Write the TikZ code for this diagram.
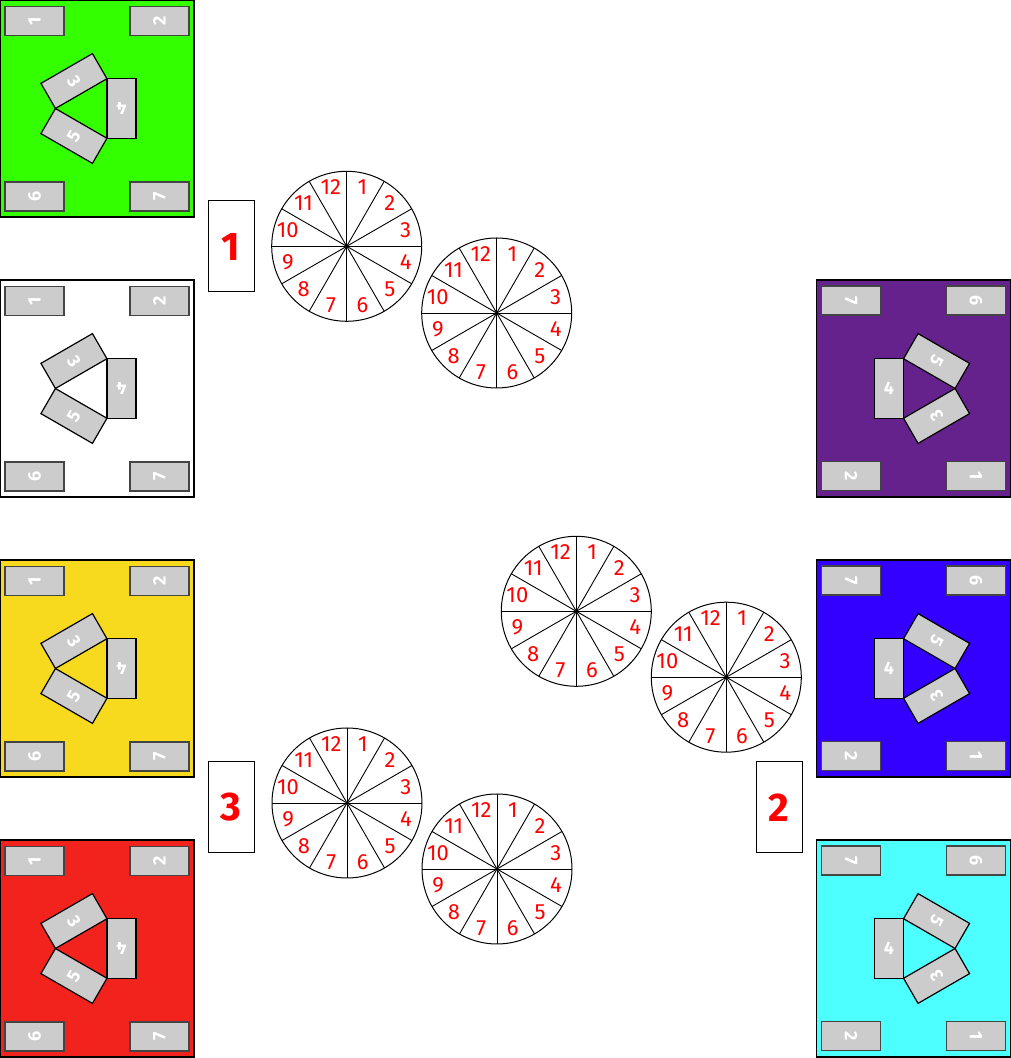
\documentclass[tikz,border=0pt]{standalone}
\usepackage{fontspec}
\setmainfont{Fira Sans}
\definecolor{cgreen}{RGB}{51,255,0}
\definecolor{cyellow}{RGB}{247,218,30}
\definecolor{cred}{RGB}{242,34,28}
\definecolor{cpurple}{RGB}{101,34,140}
\definecolor{cblue}{RGB}{51,0,255}
\definecolor{ccyan}{RGB}{77,255,255}
\definecolor{padgray}{RGB}{204,204,204}
\definecolor{padedge}{RGB}{68,68,68}
\tikzset{
  sq/.style={draw=black, line width=1.2pt, minimum width=194pt, minimum height=217pt, inner sep=0pt, outer sep=0pt},
  pad/.style={draw=padedge, fill=padgray, line width=1.2pt, minimum width=29pt, minimum height=59pt, inner sep=0pt, outer sep=0pt, text=white, font=\bfseries\fontsize{18}{18}\selectfont},
  tpad/.style={pad, draw=black, minimum height=59.5pt},
  dialc/.style={circle, draw=black, line width=1pt, minimum size=150pt, inner sep=0pt, outer sep=0pt},
  dnum/.style={text=red, font=\fontsize{22}{22}\selectfont, inner sep=0pt},
  tag/.style={draw=black, line width=1pt, minimum width=46pt, minimum height=91pt, inner sep=0pt, text=red, font=\bfseries\fontsize{40}{40}\selectfont},
  spoke/.style={line width=0.9pt, draw=black}
}
% name, center, colour, rotation
\newcommand\padsquare[4]{%
  \begin{scope}[shift={#2}, rotate=#4, transform shape]
    \node[sq, fill=#3] (#1) at (0,0) {};
    \node[pad, rotate=90] (#1-p1) at (-62.5,87.5) {1};
    \node[pad, rotate=90] (#1-p2) at (62.5,87.5) {2};
    \node[pad, rotate=90] (#1-p6) at (-62.5,-88) {6};
    \node[pad, rotate=90] (#1-p7) at (62.5,-88) {7};
    \begin{scope}[shift={(-7.2,0)}]
      \foreach \a/\n in {0/4,120/3,240/5}{
        \begin{scope}[rotate=\a]
          \node[tpad, rotate=180] (#1-p\n) at (31.7,0) {\n};
        \end{scope}
      }
    \end{scope}
  \end{scope}}
% name, center
\newcommand\clockdial[2]{%
  \node[dialc] (#1) at #2 {};
  \foreach \a [evaluate=\a as \b using int(\a+180)] in {0,30,...,150}
    \draw[spoke] (#1.\a) -- (#1.\b);
  \foreach \k in {1,...,12}
    \node[dnum] (#1-n\k) at ([shift={({105-30*\k}:61pt)}]#1.center) {\k};}
\begin{document}
\begin{tikzpicture}[x=1pt,y=1pt]
  \useasboundingbox (0,0) rectangle (1011,1058);
  \fill[white] (0,0) rectangle (1011,1058);
  % left column
  \padsquare{sqA}{(97,949.5)}{cgreen}{0}
  \padsquare{sqB}{(97,669.5)}{white}{0}
  \padsquare{sqC}{(97,389.5)}{cyellow}{0}
  \padsquare{sqD}{(97,109.5)}{cred}{0}
  % right column
  \padsquare{sqE}{(913.5,669.5)}{cpurple}{180}
  \padsquare{sqF}{(913.5,389.5)}{cblue}{180}
  \padsquare{sqG}{(913.5,109.5)}{ccyan}{180}
  % tags
  \node[tag] (tag1) at (231,811.5) {1};
  \node[tag] (tag3) at (231,250.5) {3};
  \node[tag] (tag2) at (779,250.5) {2};
  % dials
  \clockdial{d1}{(346.7,811.7)}
  \clockdial{d2}{(496.7,745)}
  \clockdial{d3}{(347,255)}
  \clockdial{d4}{(497,189)}
  \clockdial{d5}{(576.3,446.7)}
  \clockdial{d6}{(726.3,380.8)}
\end{tikzpicture}
\end{document}
